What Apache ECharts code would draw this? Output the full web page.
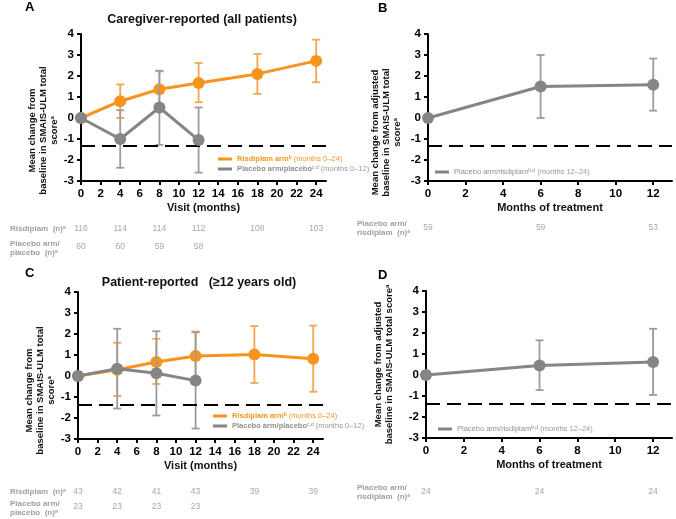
<!DOCTYPE html>
<html><head><meta charset="utf-8">
<script src="https://cdn.jsdelivr.net/npm/echarts@6/dist/echarts.min.js"></script>
<style>html,body{margin:0;padding:0;background:#fff}#c{width:676px;height:519px}</style>
</head><body><div id="c"></div>
<script>
// ---------- data ----------
const visitTicks = [0,2,4,6,8,10,12,14,16,18,20,22,24];
const treatTicks = [0,2,4,6,8,10,12];
const yTicks = [-3,-2,-1,0,1,2,3,4];

const risMonths = [0,4,8,12,18,24];
const plaMonths = [0,4,8,12];
const olMonths = [0,6,12];

// Panel A: caregiver-reported
const risA   = [0, 0.80, 1.37, 1.67, 2.10, 2.72];
const risALo = [0, 0.00, 0.52, 0.75, 1.15, 1.70];
const risAHi = [0, 1.60, 2.22, 2.62, 3.05, 3.73];
const plaA   = [0, -1.00, 0.50, -1.05];
const plaALo = [0, -2.37, -1.28, -2.60];
const plaAHi = [0, 0.37, 2.25, 0.50];
// Panel B
const olB   = [0, 1.50, 1.58];
const olBLo = [0, 0.00, 0.35];
const olBHi = [0, 3.00, 2.83];
// Panel C: patient-reported
const risC   = [0, 0.30, 0.67, 0.95, 1.02, 0.82];
const risCLo = [0, -0.95, -0.38, -0.20, -0.33, -0.75];
const risCHi = [0, 1.58, 1.77, 2.12, 2.38, 2.40];
const plaC   = [0, 0.35, 0.13, -0.22];
const plaCLo = [0, -1.55, -1.88, -2.50];
const plaCHi = [0, 2.25, 2.13, 2.08];
// Panel D
const olD   = [0, 0.45, 0.62];
const olDLo = [0, -0.72, -0.95];
const olDHi = [0, 1.65, 2.20];
// dashed thresholds
const thresholds = [-1.32, -1.32, -1.38, -1.38];
// n at risk
const nRisA = [116,114,114,112,108,103];
const nPlaA = [60,60,59,58];
const nOlB  = [59,59,53];
const nRisC = [43,42,41,43,39,39];
const nPlaC = [23,23,23,23];
const nOlD  = [24,24,24];

// ---------- style ----------
const FONT = "'Liberation Sans', Arial, sans-serif";
const ORANGE = '#F7941D', ORANGE_ERR = '#F5A552';
const GREY = '#858585', GREY_ERR = '#9c9c9c';

const chart = echarts.init(document.getElementById('c'), null, {renderer:'canvas'});

const grids = [
  {left:81, top:34, width:245, height:147},
  {left:428, top:34, width:244, height:147},
  {left:78, top:292, width:245, height:147},
  {left:426, top:291, width:246, height:147}
];

function xAx(i, max, ticks, name){
  return {type:'value', gridIndex:i, min:0, max:max, interval:2,
    name:name, nameLocation:'middle', nameGap:21,
    nameTextStyle:{fontFamily:FONT, fontWeight:'bold', fontSize:11, color:'#111'},
    axisLine:{onZero:false, lineStyle:{color:'#000', width:2}},
    axisTick:{show:true, length:4, lineStyle:{color:'#000', width:2}, customValues:ticks},
    axisLabel:{fontFamily:FONT, fontWeight:'bold', fontSize:11.5, color:'#000', margin:7, customValues:ticks},
    splitLine:{show:false}};
}
const supRich = {s:{fontSize:6, verticalAlign:'top', fontWeight:'bold', fontFamily:FONT, color:'#111', padding:[0,0,4,0]}};
function yAx(i, name, gap, pad){
  return {type:'value', gridIndex:i, min:-3, max:4, interval:1,
    name:name, nameLocation:'middle', nameGap:gap, nameRotate:90,
    nameTextStyle:{fontFamily:FONT, fontWeight:'bold', fontSize:9.5, lineHeight:11, color:'#111', align:'center', padding:pad, rich:supRich},
    axisLine:{show:true, lineStyle:{color:'#000', width:2}},
    axisTick:{show:true, length:4, lineStyle:{color:'#000', width:2}},
    axisLabel:{fontFamily:FONT, fontWeight:'bold', fontSize:11.5, color:'#000', margin:7},
    splitLine:{show:false}};
}

function errSeries(name, idx, months, lo, hi, color, z){
  return {type:'custom', name:name, xAxisIndex:idx, yAxisIndex:idx, z:z, silent:true,
    data: months.map((m,i)=>[m, lo[i], hi[i]]),
    encode:{x:0, y:[1,2]},
    renderItem:function(p, api){
      const x=api.value(0), l=api.value(1), h=api.value(2);
      if (l===h) return null;
      const a=api.coord([x,l]), b=api.coord([x,h]);
      const w=4, st={stroke:color, lineWidth:1.8};
      return {type:'group', children:[
        {type:'line', shape:{x1:a[0],y1:a[1],x2:b[0],y2:b[1]}, style:st},
        {type:'line', shape:{x1:a[0]-w,y1:a[1],x2:a[0]+w,y2:a[1]}, style:st},
        {type:'line', shape:{x1:b[0]-w,y1:b[1],x2:b[0]+w,y2:b[1]}, style:st}]};
    }};
}
function lineSeries(name, idx, months, vals, color, z, thr){
  const s = {type:'line', name:name, xAxisIndex:idx, yAxisIndex:idx, z:z,
    data: months.map((m,i)=>[m, vals[i]]),
    symbol:'circle', symbolSize:12, showSymbol:true,
    lineStyle:{color:color, width:3}, itemStyle:{color:color},
    legendIcon:'rect', emphasis:{disabled:true}};
  if (thr !== undefined) {
    s.markLine = {silent:true, symbol:['none','none'], label:{show:false},
      lineStyle:{type:[14,7], color:'#000', width:2},
      data:[{yAxis:thr}]};
  }
  return s;
}

const legendRich = {
  ob:{fontFamily:FONT, fontSize:7.5, fontWeight:'bold', color:ORANGE},
  os:{fontFamily:FONT, fontSize:5, fontWeight:'bold', color:ORANGE, verticalAlign:'top'},
  on:{fontFamily:FONT, fontSize:7.5, color:ORANGE},
  gb:{fontFamily:FONT, fontSize:7.5, fontWeight:'bold', color:'#8f8f8f'},
  gs:{fontFamily:FONT, fontSize:5, color:'#8f8f8f', verticalAlign:'top'},
  gn:{fontFamily:FONT, fontSize:7.5, color:'#9a9a9a'},
  gm:{fontFamily:FONT, fontSize:7.5, color:'#8f8f8f'}
};
const legendText = {
  risA:'{ob|Risdiplam arm}{os|b}{on| (months 0–24)}',
  plaA:'{gb|Placebo arm/placebo}{gs|c,d}{gn| (months 0–12)}',
  olB:'{gm|Placebo arm/risdiplam}{gs|b,d}{gn| (months 12–24)}',
  risC:'{ob|Risdiplam arm}{os|b}{on| (months 0–24)}',
  plaC:'{gb|Placebo arm/placebo}{gs|c,d}{gn| (months 0–12)}',
  olD:'{gm|Placebo arm/risdiplam}{gs|b,d}{gn| (months 12–24)}'
};
function leg(data, left, top){
  return {data:data, left:left, top:top, orient:'vertical', itemWidth:14, itemHeight:3,
    itemGap:2, padding:0, selectedMode:false, icon:'rect',
    formatter:(n)=>legendText[n], textStyle:{fontSize:7.5, fontFamily:FONT, rich:legendRich}};
}

const titleStyle = {fontFamily:FONT, fontWeight:'bold', fontSize:12.5, color:'#111'};
const letterStyle = {fontFamily:FONT, fontWeight:'bold', fontSize:13, color:'#000'};

const option = {
  animation:false,
  backgroundColor:'#fff',
  title:[
    {text:'Caregiver-reported (all patients)', left:202, top:13, textAlign:'center', textStyle:titleStyle, padding:0},
    {text:'Patient-reported   (≥12 years old)', left:199, top:276, textAlign:'center', textStyle:titleStyle, padding:0},
    {text:'A', left:25, top:1, textStyle:letterStyle, padding:0},
    {text:'B', left:378, top:2, textStyle:letterStyle, padding:0},
    {text:'C', left:25, top:267, textStyle:letterStyle, padding:0},
    {text:'D', left:378, top:269, textStyle:letterStyle, padding:0}
  ],
  grid:grids,
  xAxis:[
    xAx(0, 25, visitTicks, 'Visit (months)'),
    xAx(1, 13, treatTicks, 'Months of treatment'),
    xAx(2, 25, visitTicks, 'Visit (months)'),
    xAx(3, 13, treatTicks, 'Months of treatment')
  ],
  yAxis:[
    yAx(0, 'Mean change from\nbaseline in SMAIS-ULM total\nscore{s|a}', 21, [0,46,0,0]),
    yAx(1, 'Mean change from adjusted\nbaseline in SMAIS-ULM total\nscore{s|a}', 25, [0,50,0,0]),
    yAx(2, 'Mean change from\nbaseline in SMAIS-ULM total\nscore{s|a}', 16, [0,50,0,0]),
    yAx(3, 'Mean change from adjusted\nbaseline in SMAIS-ULM total score{s|a}', 31, [0,0,0,0])
  ],
  legend:[
    leg(['risA','plaA'], 218, 155),
    leg(['olB'], 435, 168),
    leg(['risC','plaC'], 213, 412),
    leg(['olD'], 438, 425)
  ],
  series:[
    errSeries('risAErr', 0, risMonths, risALo, risAHi, ORANGE_ERR, 2),
    lineSeries('risA', 0, risMonths, risA, ORANGE, 3, thresholds[0]),
    errSeries('plaAErr', 0, plaMonths, plaALo, plaAHi, GREY_ERR, 4),
    lineSeries('plaA', 0, plaMonths, plaA, GREY, 5),
    errSeries('olBErr', 1, olMonths, olBLo, olBHi, GREY_ERR, 4),
    lineSeries('olB', 1, olMonths, olB, GREY, 5, thresholds[1]),
    errSeries('risCErr', 2, risMonths, risCLo, risCHi, ORANGE_ERR, 2),
    lineSeries('risC', 2, risMonths, risC, ORANGE, 3, thresholds[2]),
    errSeries('plaCErr', 2, plaMonths, plaCLo, plaCHi, GREY_ERR, 4),
    lineSeries('plaC', 2, plaMonths, plaC, GREY, 5),
    errSeries('olDErr', 3, olMonths, olDLo, olDHi, GREY_ERR, 4),
    lineSeries('olD', 3, olMonths, olD, GREY, 5, thresholds[3])
  ]
};
chart.setOption(option);

// ---------- n tables (x positions from the axes) ----------
const g = [];
const labRich = {s:{fontSize:5.5, fontWeight:'bold', fill:'#a0a0a0', verticalAlign:'top', fontFamily:FONT}};
function label(x, y, text){
  g.push({type:'text', x:x, y:y, silent:true,
    style:{text:text, rich:labRich, fontFamily:FONT, fontSize:8, fontWeight:'bold', fill:'#a0a0a0', lineHeight:9, verticalAlign:'middle', align:'left'}});
}
function row(idx, months, vals, y){
  months.forEach((m,i)=>{
    const px = chart.convertToPixel({xAxisIndex:idx}, m);
    g.push({type:'text', x:px, y:y, silent:true,
      style:{text:String(vals[i]), fontFamily:FONT, fontSize:8.5, fill:'#a8a8a8', align:'center', verticalAlign:'middle'}});
  });
}
label(10, 229, 'Risdiplam  (n){s|e}');
label(10, 248, 'Placebo arm/\nplacebo  (n){s|e}');
row(0, risMonths, nRisA, 229);
row(0, plaMonths, nPlaA, 247);
label(357, 228, 'Placebo arm/\nrisdiplam  (n){s|e}');
row(1, olMonths, nOlB, 228);
label(10, 492, 'Risdiplam  (n){s|e}');
label(10, 508, 'Placebo arm/\nplacebo  (n){s|e}');
row(2, risMonths, nRisC, 492);
row(2, plaMonths, nPlaC, 507);
label(357, 492, 'Placebo arm/\nrisdiplam  (n){s|e}');
row(3, olMonths, nOlD, 492);
chart.setOption({graphic:g});
</script></body></html>
